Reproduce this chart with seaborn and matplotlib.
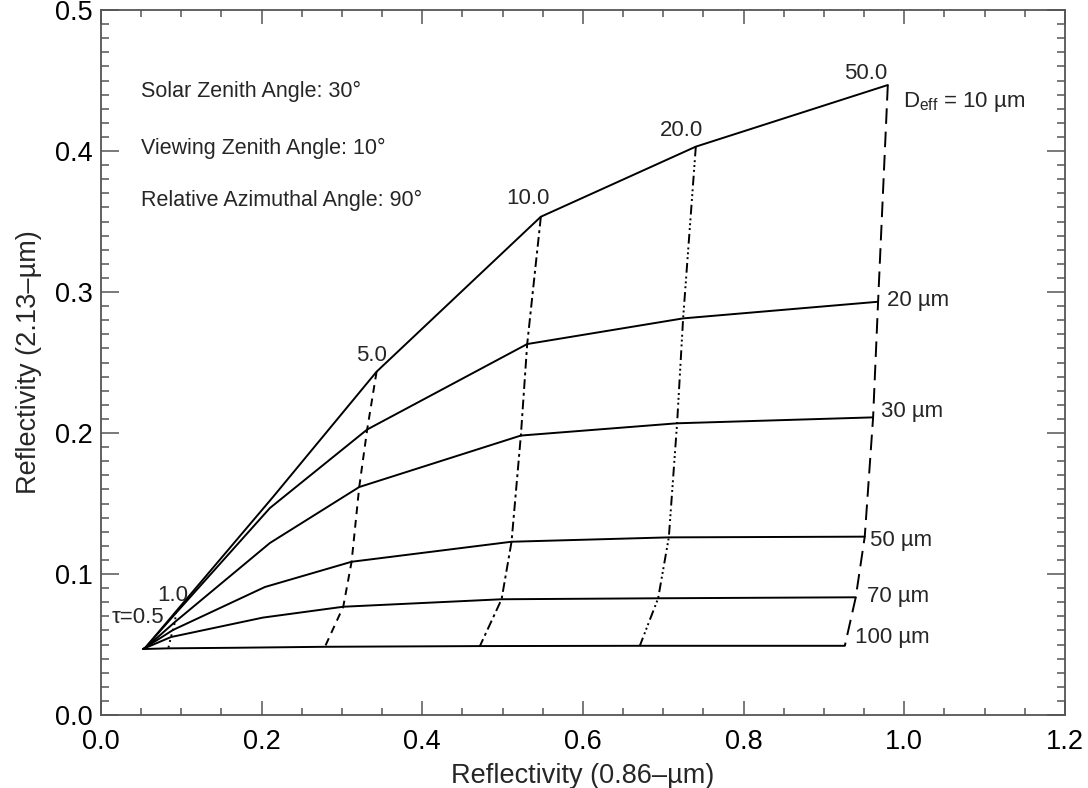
import numpy as np
import pandas as pd
import matplotlib
matplotlib.use("Agg")
import matplotlib.pyplot as plt
import seaborn as sns

# ---- data ----
taus = [0.5, 1.0, 2.0, 5.0, 10.0, 20.0, 50.0]
deff = [10, 20, 30, 50, 70, 100]

r086_d10 = [0.0548, 0.0933, 0.2141, 0.3431, 0.5476, 0.7405, 0.9795]
r213_d10 = [0.0475, 0.0734, 0.1546, 0.2435, 0.3534, 0.4031, 0.4468]
r086_d20 = [0.0548, 0.0933, 0.2103, 0.3314, 0.5306, 0.7247, 0.9674]
r213_d20 = [0.0475, 0.0723, 0.1468, 0.2025, 0.2631, 0.2813, 0.2931]
r086_d30 = [0.0548, 0.0921, 0.2103, 0.3215, 0.5227, 0.7172, 0.9612]
r213_d30 = [0.0472, 0.0660, 0.1220, 0.1617, 0.1982, 0.2069, 0.2111]
r086_d50 = [0.0535, 0.0896, 0.2041, 0.3120, 0.5111, 0.7069, 0.9508]
r213_d50 = [0.0472, 0.0603, 0.0908, 0.1087, 0.1229, 0.1260, 0.1265]
r086_d70 = [0.0529, 0.0871, 0.2016, 0.3016, 0.4987, 0.6936, 0.9396]
r213_d70 = [0.0470, 0.0553, 0.0691, 0.0768, 0.0821, 0.0828, 0.0835]
r086_d100 = [0.0523, 0.0838, 0.1668, 0.2788, 0.4717, 0.6708, 0.9260]
r213_d100 = [0.0468, 0.0473, 0.0477, 0.0484, 0.0489, 0.0491, 0.0491]

x_series = [r086_d10, r086_d20, r086_d30, r086_d50, r086_d70, r086_d100]
y_series = [r213_d10, r213_d20, r213_d30, r213_d50, r213_d70, r213_d100]

tau_lines = [0.5, 1.0, 5.0, 10.0, 20.0, 50.0]
tau_labels = ["\u03c4=0.5", "1.0", "5.0", "10.0", "20.0", "50.0"]
deff_labels = ["10 \u00b5m", "20 \u00b5m", "30 \u00b5m", "50 \u00b5m", "70 \u00b5m", "100 \u00b5m"]

rows = []
for d, xs, ys in zip(deff, x_series, y_series):
    for t, xv, yv in zip(taus, xs, ys):
        rows.append({"deff": d, "tau": t, "x": xv, "y": yv})
df = pd.DataFrame(rows)

# ---- styling ----
sns.set_style("ticks")
plt.rcParams["font.family"] = ["Liberation Sans", "DejaVu Sans"]
plt.rcParams["mathtext.fontset"] = "custom"
plt.rcParams["mathtext.rm"] = "Liberation Sans"
plt.rcParams["mathtext.it"] = "Liberation Sans"

fig = plt.figure(figsize=(10.88, 7.88), dpi=100)
ax = fig.add_axes([0.0928, 0.0926, 0.8860, 0.8947])

# constant-Deff curves (solid)
for d in deff:
    sub = df[df.deff == d]
    sns.lineplot(data=sub, x="x", y="y", sort=False, estimator=None,
                 color="black", lw=1.4, ax=ax)

# constant-tau curves
tau_styles = {
    0.5: "-",
    1.0: (0, (1, 2)),
    5.0: (0, (4, 3)),
    10.0: (0, (5, 2, 1.5, 2)),
    20.0: (0, (5, 2, 1, 1.5, 1, 1.5, 1, 2)),
    50.0: (0, (8, 4)),
}
for t in tau_lines:
    sub = df[df.tau == t].sort_values("deff")
    sns.lineplot(data=sub, x="x", y="y", sort=False, estimator=None,
                 color="black", lw=1.4, linestyle=tau_styles[t], ax=ax)

# ---- axes ----
ax.set_xlim(0.0, 1.2)
ax.set_ylim(0.0, 0.5)
ax.set_xticks(np.arange(0, 1.21, 0.2))
ax.set_yticks(np.arange(0, 0.51, 0.1))
ax.set_xticks(np.arange(0, 1.21, 0.05), minor=True)
ax.set_yticks(np.arange(0, 0.501, 0.01), minor=True)
ax.xaxis.set_major_formatter(matplotlib.ticker.FormatStrFormatter("%.1f"))
ax.yaxis.set_major_formatter(matplotlib.ticker.FormatStrFormatter("%.1f"))
spine_c = "#555555"
for s in ax.spines.values():
    s.set_color(spine_c)
    s.set_linewidth(1.3)
ax.tick_params(which="both", direction="in", top=True, right=True,
               color=spine_c, width=1.1, labelsize=19.5, labelcolor="black")
ax.tick_params(axis="x", which="major", length=10, pad=10)
ax.tick_params(axis="x", which="minor", length=5)
ax.tick_params(axis="y", which="major", length=13, pad=6)
ax.tick_params(axis="y", which="minor", length=6)
ax.set_xlabel("Reflectivity (0.86\u2013\u00b5m)", fontsize=19.5, labelpad=6)
ax.set_ylabel("Reflectivity (2.13\u2013\u00b5m)", fontsize=19.5, labelpad=9)

# ---- annotations ----
ax.text(0.050, 0.4420, "Solar Zenith Angle: 30\u00b0", fontsize=15.5, va="center")
ax.text(0.050, 0.4015, "Viewing Zenith Angle: 10\u00b0", fontsize=15.5, va="center")
ax.text(0.050, 0.3650, "Relative Azimuthal Angle: 90\u00b0", fontsize=15.5, va="center")

tau_label_pos = [(0.0784, 0.0695, "right"), (0.089, 0.0848, "center"),
                 (0.337, 0.2553, "center"), (0.532, 0.366, "center"),
                 (0.7231, 0.4142, "center"), (0.952, 0.4553, "center")]
for lab, (xp, yp, ha) in zip(tau_labels, tau_label_pos):
    ax.text(xp, yp, lab, fontsize=16, ha=ha, va="center")

deff_label_pos = [(0.998, 0.4348), (0.978, 0.2943), (0.9716, 0.2151),
                  (0.957, 0.1241), (0.953, 0.0839), (0.9384, 0.0551)]
for i, (lab, (xp, yp)) in enumerate(zip(deff_labels, deff_label_pos)):
    txt = lab if i > 0 else r"D$_{\rm eff}$ = " + lab
    ax.text(xp, yp, txt, fontsize=16, ha="left", va="center")

fig.savefig("out.png", dpi=100)
